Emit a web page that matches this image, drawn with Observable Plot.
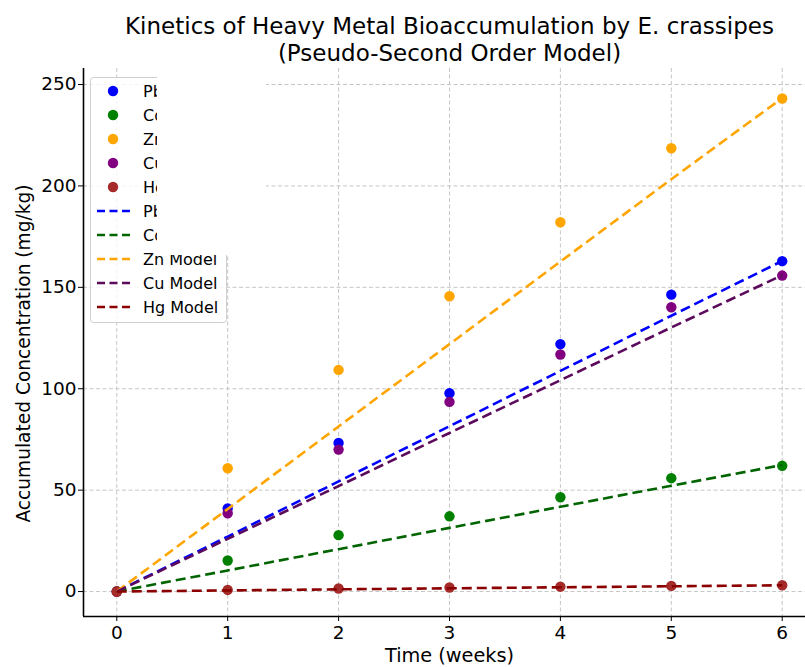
<!DOCTYPE html>
<html>
<head>
<meta charset="utf-8">
<script src="https://cdn.jsdelivr.net/npm/d3@7"></script>
<script src="https://cdn.jsdelivr.net/npm/@observablehq/plot@0.6"></script>
<style>
  body { margin: 0; background: #fff; }
  #wrap { position: relative; width: 805px; height: 667px; font-family: "DejaVu Sans", sans-serif; }
  #wrap svg { position: absolute; left: 0; top: 0; }
</style>
</head>
<body>
<div id="wrap"></div>
<script>
// Sampling times (weeks)
const weeks = [0, 1, 2, 3, 4, 5, 6];
const metals = ["Pb", "Cd", "Zn", "Cu", "Hg"];

// Measured accumulation (mg/kg)
const pbObserved = [0, 41.0, 73.3, 97.8, 122.0, 146.4, 162.9];
const cdObserved = [0, 15.3, 27.8, 37.1, 46.5, 55.9, 62.0];
const znObserved = [0, 60.8, 109.3, 145.6, 182.1, 218.6, 243.1];
const cuObserved = [0, 38.6, 70.0, 93.5, 116.9, 140.2, 155.8];
const hgObserved = [0, 0.8, 1.5, 2.0, 2.4, 2.8, 3.1];

// Pseudo-second order model curves (mg/kg)
const pbModel = [0, 27.1, 54.3, 81.5, 108.8, 136.0, 163.0];
const cdModel = [0, 10.4, 20.9, 31.4, 41.8, 52.2, 62.4];
const znModel = [0, 40.7, 81.4, 122.0, 162.7, 203.3, 243.3];
const cuModel = [0, 26.0, 52.0, 78.2, 104.2, 130.2, 156.0];
const hgModel = [0, 0.55, 1.1, 1.6, 2.1, 2.6, 3.1];

const pointColors = ["#0000ff", "#008000", "#ffa500", "#800080", "#a52a2a"];
const modelColors = ["#0000ff", "#006400", "#ffa500", "#5c0a5c", "#8b0000"];

const xTicks = [0, 1, 2, 3, 4, 5, 6];
const yTicks = [0, 50, 100, 150, 200, 250];

const titleLines = ["Kinetics of Heavy Metal Bioaccumulation by E. crassipes", "(Pseudo-Second Order Model)"];
const xLabel = "Time (weeks)";
const yLabel = "Accumulated Concentration (mg/kg)";
const legendLabels = [...metals, ...metals.map(m => m + " Model")];

const observedSeries = [pbObserved, cdObserved, znObserved, cuObserved, hgObserved];
const modelSeries = [pbModel, cdModel, znModel, cuModel, hgModel];

const toRows = (series) => metals.map((metal, i) =>
  weeks.map((week, j) => ({ metal, week, value: series[i][j] })));
const observedRows = toRows(observedSeries);
const modelRows = toRows(modelSeries);

// Axes extent (the right side runs past the page edge)
const axesX = [-0.3, 6.3];
const xDomain = [-0.3, 6.21];
const yDomain = [-12.3, 257.9];
const axesCenter = (axesX[0] + axesX[1]) / 2;

const grid = { stroke: "#c6c6c6", strokeOpacity: 1, strokeWidth: 1, strokeDasharray: "4,2.5" };

const chart = Plot.plot({
  width: 805,
  height: 667,
  marginLeft: 83,
  marginRight: 0,
  marginTop: 68,
  marginBottom: 51,
  style: { fontFamily: "DejaVu Sans, sans-serif", background: "transparent", color: "black" },
  x: { domain: xDomain },
  y: { domain: yDomain },
  marks: [
    Plot.gridX(xTicks, grid),
    Plot.gridY(yTicks, grid),
    Plot.axisX(xTicks, { tickSize: 5, tickPadding: 4, fontSize: 18.5, label: null, stroke: "black", strokeWidth: 1 }),
    Plot.axisY(yTicks, { tickSize: 5, tickPadding: 2, fontSize: 18.5, label: null, stroke: "black", strokeWidth: 1 }),
    Plot.ruleX([xDomain[0]], { stroke: "black", strokeWidth: 1.6 }),
    Plot.ruleY([yDomain[0]], { stroke: "black", strokeWidth: 1.6 }),
    ...observedRows.map((rows, i) =>
      Plot.dot(rows, { x: "week", y: "value", r: 5.2, fill: pointColors[i], stroke: "none" })),
    ...modelRows.map((rows, i) =>
      Plot.line(rows, { x: "week", y: "value", stroke: modelColors[i], strokeWidth: 2.6, strokeDasharray: "10,5", strokeLinecap: "butt" })),
    Plot.text([titleLines[0]], { x: () => axesCenter, frameAnchor: "top", lineAnchor: "middle", dy: -41.5, fontSize: 23 }),
    Plot.text([titleLines[1]], { x: () => axesCenter, frameAnchor: "top", lineAnchor: "middle", dy: -15, fontSize: 23 }),
    Plot.text([xLabel], { x: () => axesCenter, frameAnchor: "bottom", lineAnchor: "middle", dy: 39, fontSize: 19.3 }),
    Plot.text([yLabel], { frameAnchor: "left", textAnchor: "middle", rotate: -90, lineAnchor: "middle", dx: -59, dy: 11, fontSize: 18.6 })
  ]
});
document.getElementById("wrap").appendChild(chart);

// Legend box drawn over the plot
const legend = d3.select("#wrap").append("svg")
  .attr("width", 805).attr("height", 667)
  .style("pointer-events", "none")
  .style("font-family", "DejaVu Sans, sans-serif");

legend.append("rect")
  .attr("x", 90.5).attr("y", 77.5).attr("width", 136).attr("height", 245).attr("rx", 3)
  .attr("fill", "white").attr("fill-opacity", 0.8)
  .attr("stroke", "#d0d0d0").attr("stroke-width", 1);

const rowY = (i) => 91 + 24 * i;
legendLabels.forEach((label, i) => {
  const g = legend.append("g");
  if (i < metals.length) {
    g.append("circle").attr("cx", 113).attr("cy", rowY(i)).attr("r", 5.2).attr("fill", pointColors[i]);
  } else {
    g.append("line").attr("x1", 97).attr("x2", 131).attr("y1", rowY(i)).attr("y2", rowY(i))
      .attr("stroke", modelColors[i - metals.length]).attr("stroke-width", 2.6)
      .attr("stroke-dasharray", "8,4.5");
  }
  g.append("text").attr("x", 143).attr("y", rowY(i)).attr("dy", "0.35em")
    .attr("font-size", 16).attr("fill", "black").text(label);
});

// Blank panel covering the upper part of the legend text
legend.append("rect")
  .attr("x", 157).attr("y", 64).attr("width", 109).attr("height", 191)
  .attr("fill", "white");
</script>
</body>
</html>
